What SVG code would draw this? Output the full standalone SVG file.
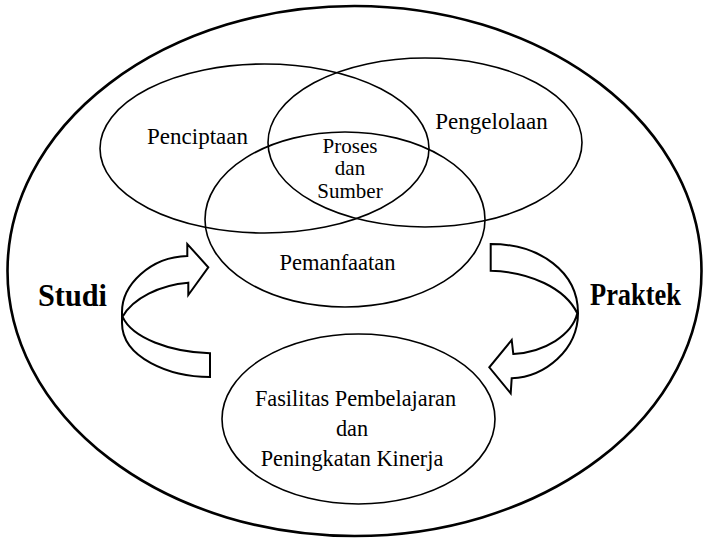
<svg xmlns="http://www.w3.org/2000/svg" width="703" height="539" viewBox="0 0 703 539">
<style>
.el{fill:none;stroke:#000;stroke-width:1.6}
.outer{fill:none;stroke:#000;stroke-width:2.6}
.t{font-family:"Liberation Serif","Times New Roman",serif;fill:#000;text-anchor:middle}
.lb{font-family:"Liberation Serif","Times New Roman",serif;font-weight:bold;fill:#000;font-size:31px}
.arr{fill:#fff;stroke:#000;stroke-width:2;stroke-linejoin:miter}
</style>
<rect width="703" height="539" fill="#fff"/>
<g id="outer"><ellipse class="outer" cx="354.5" cy="271" rx="347" ry="265"/></g>
<g id="penciptaan">
<ellipse class="el" cx="264.5" cy="148.5" rx="164.5" ry="84.5"/>
<text class="t" x="197.5" y="144" font-size="23">Penciptaan</text>
</g>
<g id="pengelolaan">
<ellipse class="el" cx="425" cy="142.5" rx="157" ry="84.5"/>
<text class="t" x="491.5" y="129" font-size="23">Pengelolaan</text>
</g>
<g id="pemanfaatan">
<ellipse class="el" cx="345" cy="219.5" rx="140" ry="87.5"/>
<text class="t" x="337.5" y="270" font-size="22.5">Pemanfaatan</text>
</g>
<g id="proses">
<text class="t" x="350" y="153" font-size="21">Proses</text>
<text class="t" x="350" y="175" font-size="21">dan</text>
<text class="t" x="350" y="198" font-size="21">Sumber</text>
</g>
<g id="fasilitas">
<ellipse class="el" cx="358.5" cy="419" rx="136.5" ry="85"/>
<text class="t" x="355.5" y="406" font-size="22.3">Fasilitas Pembelajaran</text>
<text class="t" x="352" y="436" font-size="22.3">dan</text>
<text class="t" x="352" y="466" font-size="22.3">Peningkatan Kinerja</text>
</g>
<g id="connectors">
<g id="studi-arrow">
<path class="arr" d="M187.3,256 L187.3,244 L208.3,267.3 L188.3,295 L188.3,282.7 C160,285 133,298 122.5,316.7 C132,338 170,352 210,353.3 L210,377 C170,377 122,358 122,323 L122,312 C122,285 150,257 187.3,256 Z"/>
</g>
<g id="praktek-arrow">
<path class="arr" d="M490.7,244 C540,244 578,272 578,313 C578,350 545,377 511.7,378.3 L510.7,393.3 L489.3,367.3 L511.7,340 L513.3,354 C545,352 572,335 577.3,313.3 C565,288 530,272 490.7,270.7 Z"/>
</g>
</g>
<g id="labels">
<text class="lb" x="38" y="306" textLength="69" lengthAdjust="spacingAndGlyphs">Studi</text>
<text class="lb" x="590" y="305" textLength="91" lengthAdjust="spacingAndGlyphs">Praktek</text>
</g>
</svg>
